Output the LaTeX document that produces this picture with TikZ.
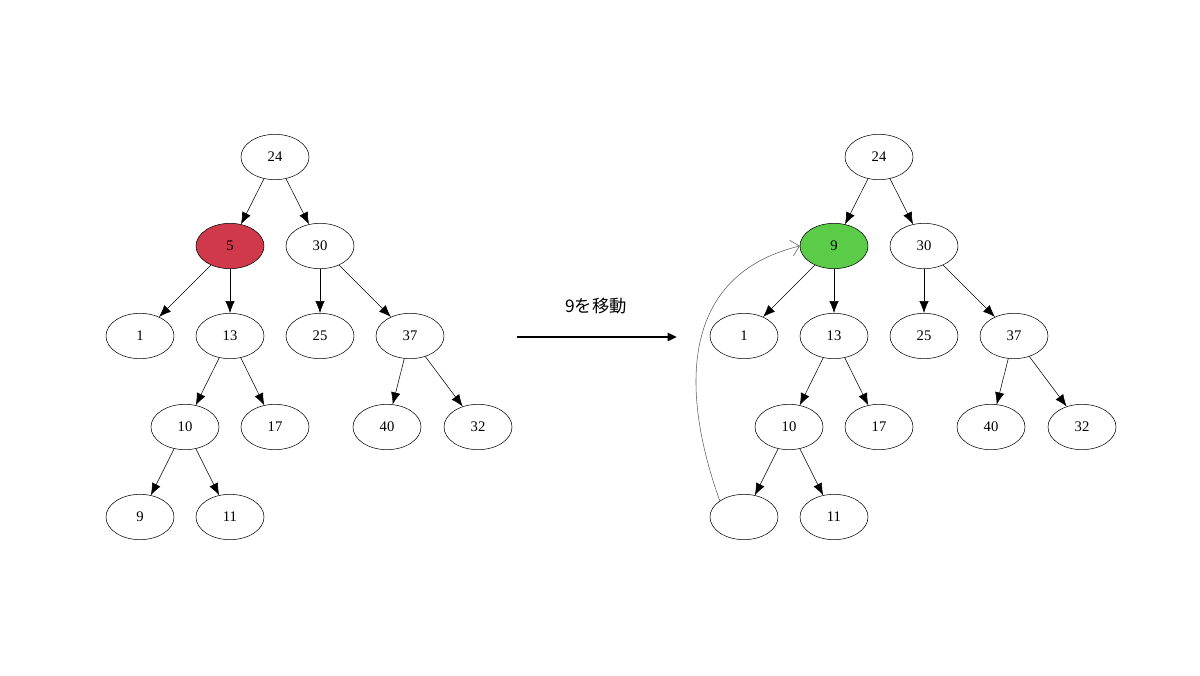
\documentclass[tikz,border=0pt]{standalone}
\usepackage{fontspec}
\setmainfont{Liberation Serif}
\newfontfamily\jpfont{Noto Sans CJK JP}
\usepackage{tikz}
\usetikzlibrary{shapes.geometric,arrows.meta}
\definecolor{delred}{RGB}{208,57,74}
\definecolor{movegreen}{RGB}{90,204,72}
\tikzset{
  nd/.style={ellipse,draw,minimum width=51pt,minimum height=34pt,inner sep=0pt,font=\fontsize{11}{11}\selectfont},
  ed/.style={-{Latex[length=9pt,width=7pt]}}
}
\begin{document}
\begin{tikzpicture}[x=0.75pt,y=0.75pt,yscale=-1,xscale=1]
\useasboundingbox (0,0) rectangle (1200,675);
% left tree
\node [nd] (l24) at (275,157) {24};
\node [nd,fill=delred] (l5) at (230,246) {5};
\node [nd] (l30) at (320,246) {30};
\node [nd] (l1) at (140,336) {1};
\node [nd] (l13) at (230,336) {13};
\node [nd] (l25) at (320,336) {25};
\node [nd] (l37) at (410,336) {37};
\node [nd] (l10) at (185,427) {10};
\node [nd] (l17) at (275,427) {17};
\node [nd] (l40) at (387,427) {40};
\node [nd] (l32) at (478,427) {32};
\node [nd] (l9) at (140,517) {9};
\node [nd] (l11) at (230,517) {11};
% right tree
\node [nd] (r24) at (879,157) {24};
\node [nd,fill=movegreen] (r9) at (834,246) {9};
\node [nd] (r30) at (924,246) {30};
\node [nd] (r1) at (744,336) {1};
\node [nd] (r13) at (834,336) {13};
\node [nd] (r25) at (924,336) {25};
\node [nd] (r37) at (1014,336) {37};
\node [nd] (r10) at (789,427) {10};
\node [nd] (r17) at (879,427) {17};
\node [nd] (r40) at (991,427) {40};
\node [nd] (r32) at (1082,427) {32};
\node [nd] (rx) at (744,517) {};
\node [nd] (r11) at (834,517) {11};
\foreach \s in {l,r} {
  \draw [ed] (\s24) -- (\s30);
  \draw [ed] (\s30) -- (\s25);
  \draw [ed] (\s30) -- (\s37);
  \draw [ed] (\s37) -- (\s40);
  \draw [ed] (\s37) -- (\s32);
  \draw [ed] (\s13) -- (\s10);
  \draw [ed] (\s13) -- (\s17);
  \draw [ed] (\s10) -- (\s11);
}
\draw [ed] (l24) -- (l5);
\draw [ed] (l5) -- (l1);
\draw [ed] (l5) -- (l13);
\draw [ed] (l10) -- (l9);
\draw [ed] (r24) -- (r9);
\draw [ed] (r9) -- (r1);
\draw [ed] (r9) -- (r13);
\draw [ed] (r10) -- (rx);
% move arrow
\coordinate (ma) at (517,337);
\coordinate (mb) at (677,337);
\draw [line width=2.2pt,-{Triangle[length=7pt,width=6pt]}] (ma) -- (mb);
\node [font=\jpfont\fontsize{13}{13}\selectfont] (mlab) at (596,306) {9を移動};
\draw [gray!70!black,thin,-{Straight Barb[length=6pt]}] (rx.north west) .. controls (680,390) and (680,275) .. (r9.west);
\end{tikzpicture}
\end{document}
